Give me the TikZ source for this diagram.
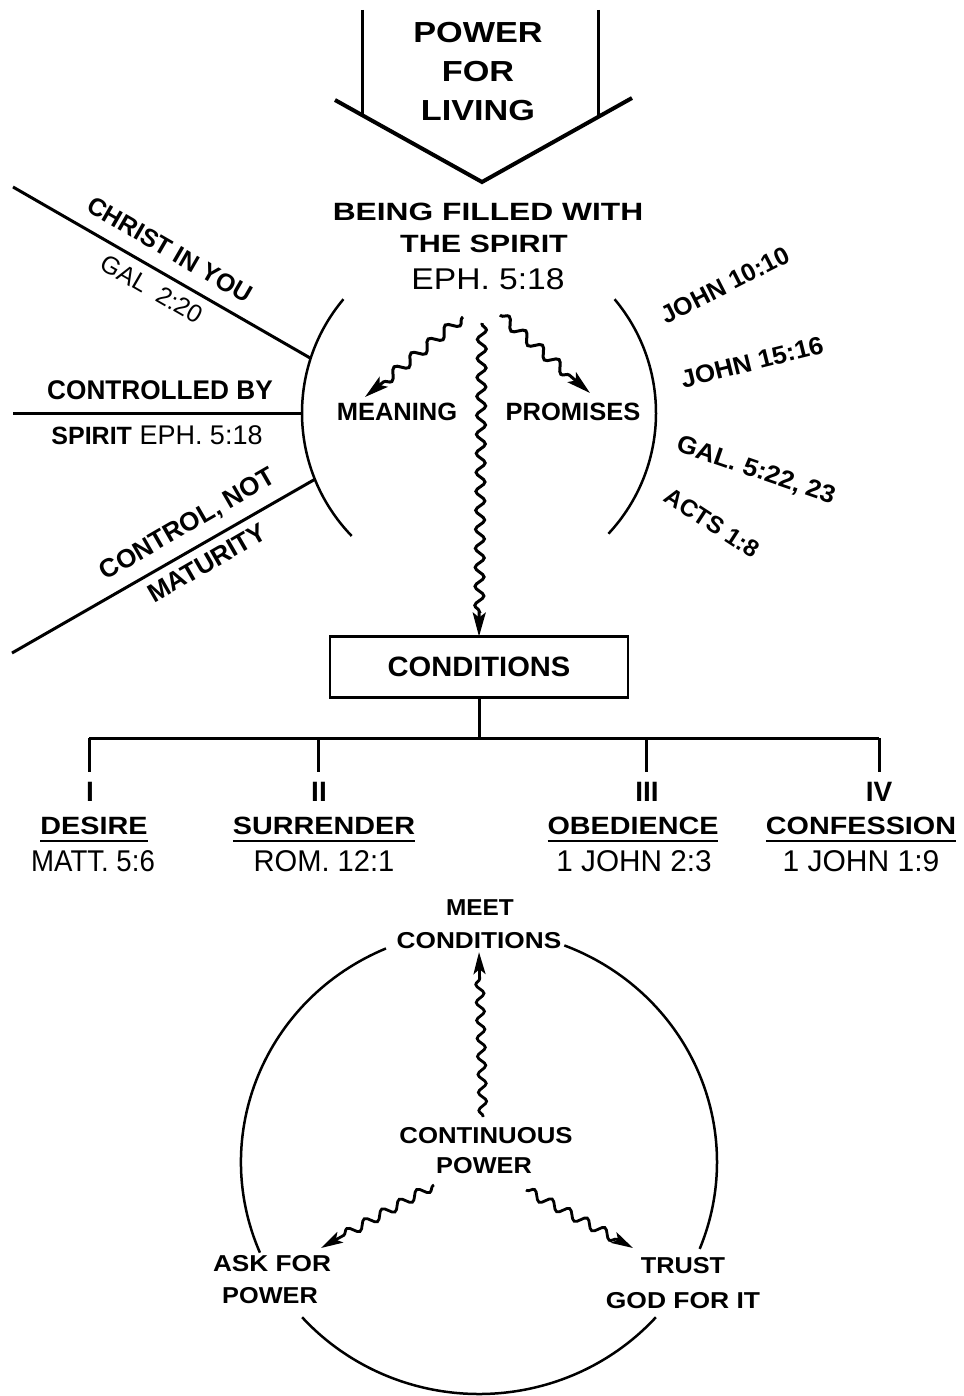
\documentclass[tikz,border=0pt]{standalone}
\usepackage{fontspec}
\setmainfont{Liberation Sans}
\usepackage{graphicx}
\usetikzlibrary{decorations.pathmorphing,arrows.meta,calc}
\newcommand\sx[2]{\scalebox{#1}[1]{#2}}
\newcommand\fs[1]{\fontsize{#1}{#1}\selectfont}
\begin{document}
\begin{tikzpicture}[x=1pt,y=-1pt,
  every node/.style={inner sep=0pt, outer sep=0pt},
  bt/.style={font=\fs{#1}\bfseries},
  lt/.style={font=\fs{#1}},
  ln/.style={line width=3pt},
  arcln/.style={line width=2.5pt},
  wavy/.style={line width=3pt, decorate,
    decoration={snake, amplitude=4.5pt, segment length=19pt, post length=20pt, pre length=1pt},
    -{Stealth[length=24pt,width=13pt,inset=5pt]}},
  wavys/.style={line width=2.8pt, decorate,
    decoration={snake, amplitude=4pt, segment length=18pt, post length=18pt, pre length=1pt},
    -{Stealth[length=22pt,width=12pt,inset=5pt]}}
]
\useasboundingbox (0,0) rectangle (963,1396);

% ---------- top arrow ----------
\coordinate (tl) at (362,10);
\coordinate (tlb) at (362,115);
\coordinate (tr) at (598,10);
\coordinate (trb) at (598,117);
\coordinate (chl) at (335,100);
\coordinate (chb) at (482,182);
\coordinate (chr) at (632,98);
\draw[ln] (tl) -- (tlb);
\draw[ln] (tr) -- (trb);
\draw[line width=4pt, line join=miter] (chl) -- (chb) -- (chr);
\node[bt=29] (pw1) at (478,33) {\sx{1.18}{POWER}};
\node[bt=29] (pw2) at (478,72) {\sx{1.18}{FOR}};
\node[bt=29] (pw3) at (478,111) {\sx{1.18}{LIVING}};

% ---------- heading ----------
\node[bt=25] (h1) at (488,212) {\sx{1.27}{BEING FILLED WITH}};
\node[bt=25] (h2) at (484,244) {\sx{1.22}{THE SPIRIT}};
\node[lt=30] (h3) at (488,279) {\sx{1.12}{EPH. 5:18}};

% ---------- upper circle arcs ----------
\coordinate (C) at (479,413);
\draw[arcln] ($(C)+(-140:177)$) arc[start angle=140, end angle=224, radius=177pt];
\draw[arcln] ($(C)+(43:177)$) arc[start angle=-43, end angle=40, radius=177pt];

% ---------- left spokes ----------
\coordinate (l1a) at (13,187);
\coordinate (l1b) at ($(C)+(-162:177)$);
\coordinate (l2a) at (13,413);
\coordinate (l2b) at ($(C)+(180:177)$);
\coordinate (l3a) at (12,653);
\coordinate (l3b) at ($(C)+(-202:177)$);
\draw[ln] (l1a) -- (l1b);
\draw[ln] (l2a) -- (l2b);
\draw[ln] (l3a) -- (l3b);

\node[bt=25, rotate=-30] (christ) at (170,250) {CHRIST IN YOU};
\node[lt=25, rotate=-30] (gal) at (152,289) {GAL\ \ 2:20};
\node[bt=27] (ctrlby) at (160,390) {\sx{0.97}{CONTROLLED BY}};
\node[lt=27] (spirit) at (157,435) {{\fs{25}\bfseries SPIRIT} EPH. 5:18};
\node[bt=26, rotate=30] (ctrlnot) at (188,525) {CONTROL, NOT};
\node[bt=26, rotate=30] (matur) at (207,563) {MATURITY};

% ---------- right references ----------
\node[bt=25, rotate=27] (j1) at (725,285) {JOHN 10:10};
\node[bt=25, rotate=14] (j2) at (752,362) {\sx{1.04}{JOHN 15:16}};
\node[bt=25, rotate=-19] (g5) at (756,471) {\sx{1.05}{GAL. 5:22, 23}};
\node[bt=24, rotate=-33] (acts) at (712,523) {ACTS 1:8};

% ---------- meaning / promises ----------
\node[bt=25] (meaning) at (397,412) {\sx{1.02}{MEANING}};
\node[bt=25] (promises) at (573,412) {\sx{1.02}{PROMISES}};

% ---------- conditions box ----------
\node[draw, line width=2.8pt, minimum width=298pt, minimum height=61pt, bt=28]
  (cond) at (479,667) {\sx{1.04}{CONDITIONS}};

% ---------- upper wavy arrows ----------
\coordinate (ws) at (482,323);
\coordinate (wl) at (463,317);
\coordinate (wlt) at (365,397);
\coordinate (wr) at (500,315);
\coordinate (wrt) at (590,393);
\draw[wavy] (ws) -- (cond.north);
\draw[wavy, decoration={segment length=22pt, amplitude=5pt}] (wl) -- (wlt);
\draw[wavy, decoration={segment length=22pt, amplitude=5pt}] (wr) -- (wrt);

% ---------- tree ----------
\coordinate (tj) at (479,738);
\coordinate (t1) at (89,738);
\coordinate (t2) at (318,738);
\coordinate (t3) at (646,738);
\coordinate (t4) at (879,738);
\coordinate (d1) at (89,772);
\coordinate (d2) at (318,772);
\coordinate (d3) at (646,772);
\coordinate (d4) at (879,772);
\draw[ln] (cond.south) -- (tj);
\draw[ln] (t1) -- (t4);
\draw[ln] (t1) -- (d1);
\draw[ln] (t2) -- (d2);
\draw[ln] (t3) -- (d3);
\draw[ln] (t4) -- (d4);

\node[bt=28] (n1) at (90,792) {I};
\node[bt=28] (n2) at (319,792) {II};
\node[bt=28] (n3) at (647,792) {III};
\node[bt=28] (n4) at (879,792) {IV};

\node[bt=25] (desire) at (94,826) {\sx{1.15}{DESIRE}};
\node[bt=25] (surr) at (324,826) {\sx{1.15}{SURRENDER}};
\node[bt=25] (obed) at (633,826) {\sx{1.15}{OBEDIENCE}};
\node[bt=25] (conf) at (861,826) {\sx{1.15}{CONFESSION}};
\foreach \n in {desire,surr,obed,conf}{
  \draw[line width=2.5pt] ([yshift=-6pt]\n.south west) -- ([yshift=-6pt]\n.south east);
}

\node[lt=30] (r1) at (93,861) {\sx{0.92}{MATT. 5:6}};
\node[lt=30] (r2) at (324,861) {\sx{0.97}{ROM. 12:1}};
\node[lt=30] (r3) at (634,861) {\sx{0.99}{1 JOHN 2:3}};
\node[lt=30] (r4) at (861,861) {\sx{1.0}{1 JOHN 1:9}};

% ---------- bottom cycle ----------
\node[bt=23] (meet) at (480,908) {\sx{1.06}{MEET}};
\node[bt=23] (mcond) at (479,941) {\sx{1.14}{CONDITIONS}};
\node[bt=23] (cont) at (486,1136) {\sx{1.12}{CONTINUOUS}};
\node[bt=23] (cpow) at (484,1166) {\sx{1.1}{POWER}};
\node[bt=23] (ask) at (272,1264) {\sx{1.14}{ASK FOR}};
\node[bt=23] (askp) at (270,1296) {\sx{1.1}{POWER}};
\node[bt=23] (trust) at (683,1266) {\sx{1.1}{TRUST}};
\node[bt=23] (god) at (683,1301) {\sx{1.15}{GOD FOR IT}};

\coordinate (E) at (479,1162);
\draw[arcln] ($(E)+({238*cos(113)},{-232*sin(113)})$)
  arc[start angle=113, end angle=203, x radius=238pt, y radius=232pt];
\draw[arcln] ($(E)+({238*cos(222)},{-232*sin(222)})$)
  arc[start angle=222, end angle=318, x radius=238pt, y radius=232pt];
\draw[arcln] ($(E)+({238*cos(-22)},{-232*sin(-22)})$)
  arc[start angle=-22, end angle=69, x radius=238pt, y radius=232pt];

\coordinate (bvs) at (483,1117);
\coordinate (bls) at (434,1185);
\coordinate (blt) at (321,1248);
\coordinate (brs) at (526,1190);
\coordinate (brt) at (633,1248);
\draw[wavys] (bvs) -- ([yshift=-3pt]mcond.south);
\draw[wavys, decoration={segment length=20pt, amplitude=4.5pt}] (bls) -- (blt);
\draw[wavys, decoration={segment length=20pt, amplitude=4.5pt}] (brs) -- (brt);
\end{tikzpicture}
\end{document}
